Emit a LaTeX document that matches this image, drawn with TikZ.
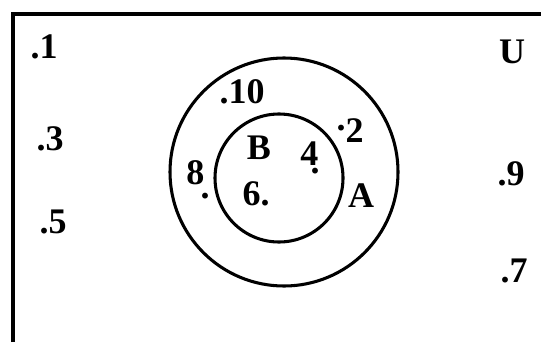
\documentclass[tikz,border=0pt]{standalone}
\usepackage{fontspec}
\setmainfont{Liberation Serif}
\usetikzlibrary{positioning}

\begin{document}
\begin{tikzpicture}[
    x=0.75pt, y=-0.75pt,
    elem/.style={font=\fontsize{27}{27}\selectfont\bfseries, inner sep=0pt},
    setline/.style={draw, circle, line width=2.3pt, inner sep=0pt},
]
\useasboundingbox (0,0) rectangle (541,342);

% Universe (only left and top edges are in view)
\coordinate (ubl) at (13,342);
\coordinate (utr) at (541,14);
\draw[line width=2.3pt] (ubl) |- (utr);

% Sets A and B
\node[setline, minimum size=171pt] (setA) at (284,172) {};
\node[setline, minimum size=96pt] (setB) at (279,178) {};

% Elements outside A
\node[elem] (e1) at (44,47) {.1};
\node[elem] (e3) at (50,139) {.3};
\node[elem] (e5) at (53,222) {.5};
\node[elem] (lU) at (512,52) {U};
\node[elem] (e9) at (511,174) {.9};
\node[elem] (e7) at (514,271) {.7};

% Elements in A only
\node[elem] (e10) at (242,92) {.10};
\node[elem] (e2) at (350,131) {\raisebox{0.35em}{.}2};
\node[elem] (e8) at (198,180) {8\kern-0.1em\raisebox{-0.38em}{.}};
\node[elem] (lA) at (361,196) {A};

% Elements in B
\node[elem] (lB) at (259,148) {B};
\node[elem] (e4) at (310,158) {4\kern-0.22em\raisebox{-0.22em}{.}};
\node[elem] (e6) at (256,194) {6.};

\end{tikzpicture}
\end{document}
